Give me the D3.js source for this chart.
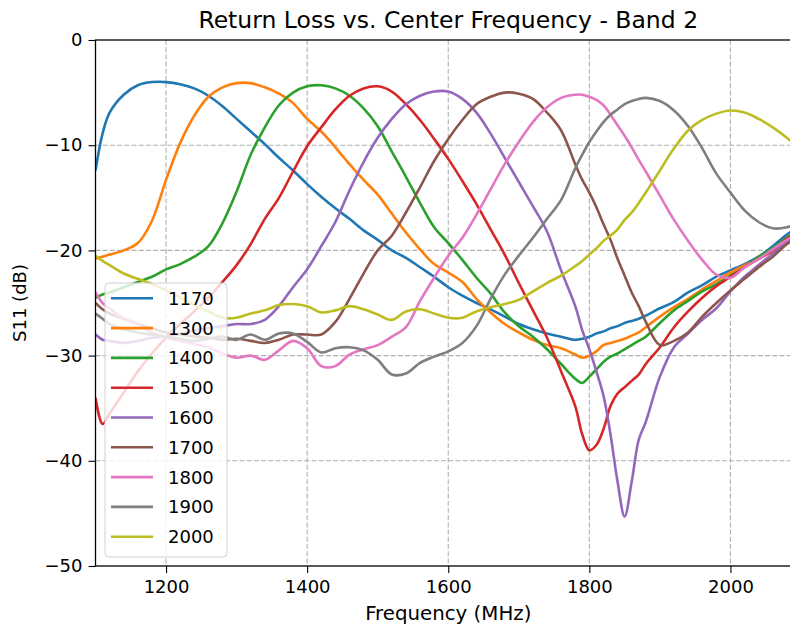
<!DOCTYPE html>
<html>
<head>
<meta charset="utf-8">
<script src="https://cdn.jsdelivr.net/npm/d3@7"></script>
<style>
  body { margin: 0; background: #fff; }
  svg { font-family: "DejaVu Sans", sans-serif; }
</style>
</head>
<body>
<svg id="canvas" width="790" height="629"></svg>
<script>
// frequency points (MHz) shared by every trace
const freq = [1100, 1110, 1120, 1140, 1160, 1180, 1200, 1220, 1240, 1260, 1280, 1300, 1320, 1340, 1360, 1380, 1400,
  1420, 1440, 1460, 1480, 1500, 1520, 1540, 1560, 1580, 1600, 1620, 1640, 1660, 1680, 1700, 1720, 1740, 1760, 1780,
  1790, 1800, 1810, 1820, 1830, 1840, 1850, 1860, 1870, 1880, 1900, 1920, 1940, 1960, 1980, 2000, 2020, 2040, 2060, 2080, 2100];

const labels = ['1170', '1300', '1400', '1500', '1600', '1700', '1800', '1900', '2000'];

// S11 (dB) for each center frequency
const s1170 = [-12.4, -8.9, -6.9, -5.2, -4.3, -4.0, -4.0, -4.2, -4.6, -5.3, -6.3, -7.5, -8.7, -9.9, -11.2, -12.4, -13.7,
  -14.9, -16.0, -17.0, -18.1, -19.0, -20.0, -20.7, -21.6, -22.5, -23.5, -24.3, -25.0, -25.6, -26.3, -27.0, -27.5, -27.9, -28.2, -28.5,
  -28.4, -28.2, -27.9, -27.7, -27.4, -27.2, -26.9, -26.7, -26.5, -26.2, -25.5, -24.9, -24.0, -23.3, -22.5, -21.9, -21.3, -20.6, -19.6, -18.5, -17.6];
const s1300 = [-20.8, -20.6, -20.4, -20.0, -19.3, -17.2, -13.3, -9.8, -7.2, -5.4, -4.5, -4.1, -4.1, -4.5, -5.1, -6.0, -7.5,
  -8.7, -10.2, -11.8, -13.3, -14.7, -16.5, -18.3, -19.9, -21.3, -22.1, -23.0, -24.6, -25.9, -27.0, -27.8, -28.5, -29.0, -29.3, -29.9,
  -30.2, -30.0, -29.6, -29.0, -28.8, -28.6, -28.4, -28.1, -27.8, -27.3, -26.3, -25.4, -24.6, -23.7, -22.9, -22.1, -21.4, -20.8, -20.0, -18.8, -17.9];
const s1400 = [-24.5, -24.2, -24.0, -23.5, -23.0, -22.5, -21.8, -21.3, -20.6, -19.6, -17.4, -14.4, -10.9, -8.3, -6.2, -5.0, -4.4,
  -4.3, -4.6, -5.3, -6.5, -8.2, -10.6, -13.0, -15.5, -17.8, -19.3, -20.9, -22.6, -24.1, -25.9, -27.2, -28.2, -29.4, -30.8, -32.2,
  -32.6, -32.0, -31.3, -30.6, -30.1, -29.8, -29.4, -29.0, -28.6, -28.2, -26.9, -25.7, -24.8, -23.9, -23.2, -22.4, -21.6, -20.6, -19.8, -18.8, -18.0];
const s1500 = [-34.0, -36.5, -35.5, -33.5, -31.5, -29.8, -28.3, -27.0, -25.8, -24.5, -23.0, -21.4, -19.4, -17.0, -15.0, -12.5, -10.1,
  -8.3, -6.6, -5.3, -4.6, -4.4, -4.9, -6.1, -7.6, -9.4, -11.3, -13.4, -15.6, -18.0, -20.4, -23.1, -25.7, -28.3, -31.5, -34.8,
  -37.5, -39.0, -38.5, -37.0, -34.8, -33.6, -33.0, -32.4, -31.8, -30.8, -29.2, -27.3, -25.8, -24.5, -23.4, -22.5, -21.6, -20.8, -20.0, -18.9, -18.0];
const s1600 = [-28.0, -28.5, -28.6, -28.8, -28.6, -28.3, -28.2, -27.9, -27.6, -27.4, -27.2, -27.0, -27.0, -26.6, -25.3, -23.5, -21.8,
  -19.6, -17.3, -14.3, -11.6, -9.3, -7.5, -6.1, -5.3, -4.9, -4.9, -5.6, -6.9, -8.9, -11.2, -13.5, -15.8, -18.2, -21.9, -25.3,
  -27.6, -29.4, -31.5, -33.8, -37.5, -42.0, -45.3, -42.0, -38.0, -36.3, -32.0, -29.2, -27.9, -26.6, -25.5, -23.9, -22.5, -21.4, -20.3, -19.2, -18.3];
const s1700 = [-25.0, -25.6, -26.0, -26.5, -27.0, -27.4, -27.8, -28.0, -28.2, -28.3, -28.5, -28.4, -28.6, -28.8, -28.5, -28.0, -28.0,
  -28.0, -26.8, -24.6, -22.2, -20.0, -18.6, -16.4, -14.0, -11.5, -9.4, -7.6, -6.1, -5.4, -5.0, -5.1, -5.6, -6.9, -8.6, -11.8,
  -13.3, -14.5, -15.9, -17.5, -19.0, -20.8, -22.4, -24.0, -25.3, -26.8, -29.0, -28.6, -27.8, -26.3, -25.0, -23.8, -22.7, -21.6, -20.6, -19.4, -18.5];
const s1800 = [-24.0, -25.0, -25.5, -26.5, -27.0, -27.8, -28.3, -28.6, -28.9, -29.2, -29.8, -30.2, -30.0, -30.4, -29.5, -28.6, -29.3,
  -31.0, -31.0, -29.9, -29.4, -29.0, -28.2, -27.3, -24.8, -22.6, -20.5, -18.8, -16.6, -14.2, -11.8, -9.7, -7.8, -6.4, -5.5, -5.2,
  -5.2, -5.4, -5.7, -6.2, -7.1, -8.1, -9.1, -10.2, -11.4, -12.5, -14.8, -17.1, -19.1, -20.9, -22.3, -22.6, -21.6, -20.8, -19.9, -19.0, -18.2];
const s1900 = [-26.0, -26.5, -27.0, -27.5, -27.8, -28.0, -28.2, -28.4, -28.6, -28.4, -28.2, -28.5, -28.0, -28.5, -27.9, -27.9, -28.7,
  -29.7, -29.3, -29.2, -29.5, -30.4, -31.8, -31.7, -30.7, -30.1, -29.6, -28.8, -27.2, -24.6, -22.3, -20.5, -18.8, -17.0, -15.2, -12.2,
  -10.9, -9.7, -8.7, -7.8, -7.1, -6.6, -6.1, -5.8, -5.6, -5.5, -5.8, -6.7, -8.2, -10.3, -12.7, -14.5, -16.2, -17.3, -17.9, -17.8, -17.3];
const s2000 = [-20.5, -21.0, -21.4, -22.2, -22.7, -23.2, -23.8, -24.5, -25.2, -25.8, -26.4, -26.4, -26.0, -25.7, -25.2, -25.1, -25.3,
  -25.9, -25.7, -25.3, -25.6, -26.1, -26.6, -25.8, -25.6, -26.0, -26.4, -26.4, -25.8, -25.4, -25.1, -24.7, -23.9, -23.1, -22.4, -21.5,
  -21.0, -20.4, -19.8, -19.1, -18.6, -18.0, -17.1, -16.4, -15.5, -14.5, -12.4, -10.3, -8.6, -7.6, -7.0, -6.7, -6.9, -7.5, -8.3, -9.3, -10.5];

const series = [s1170, s1300, s1400, s1500, s1600, s1700, s1800, s1900, s2000];
const colors = ['#1f77b4', '#ff7f0e', '#2ca02c', '#d62728', '#9467bd', '#8c564b', '#e377c2', '#7f7f7f', '#bcbd22'];

const xTicks = [1200, 1400, 1600, 1800, 2000];
const yTicks = [0, -10, -20, -30, -40, -50];

let canvas = d3.select('#canvas')
const mLeft = 95.5, mRight = 801, mTop = 40, mBottom = 566;

let x = d3.scaleLinear().domain([1100, 2100]).range([mLeft, mRight]);
let y = d3.scaleLinear().domain([-50, 0]).range([mBottom, mTop]);

// grid
canvas.append('g')
  .selectAll('line')
  .data(xTicks)
  .enter().append('line')
  .attr('x1', d => x(d)).attr('x2', d => x(d))
  .attr('y1', mTop).attr('y2', mBottom)
  .attr('stroke', '#b0b0b0').attr('stroke-width', 1.1).attr('stroke-dasharray', '5,2.2');
canvas.append('g')
  .selectAll('line')
  .data(yTicks.filter(d => d > -50 && d < 0))
  .enter().append('line')
  .attr('x1', mLeft).attr('x2', mRight)
  .attr('y1', d => y(d)).attr('y2', d => y(d))
  .attr('stroke', '#b0b0b0').attr('stroke-width', 1.1).attr('stroke-dasharray', '5,2.2');

canvas.append('clipPath').attr('id', 'clip')
  .append('rect').attr('x', mLeft).attr('y', mTop).attr('width', mRight - mLeft).attr('height', mBottom - mTop);

let line = d3.line()
  .x((d, i) => x(freq[i]))
  .y(d => y(d))
  .curve(d3.curveCatmullRom.alpha(0.5));

canvas.append('g').attr('clip-path', 'url(#clip)')
  .selectAll('path')
  .data(series)
  .enter().append('path')
  .attr('d', line)
  .attr('fill', 'none')
  .attr('stroke', (d, i) => colors[i])
  .attr('stroke-width', 2.6)
  .attr('stroke-linejoin', 'round');

// axes
let xAxis = d3.axisBottom(x).tickValues(xTicks).tickSize(7).tickPadding(7).tickFormat(d3.format('d'));
let yAxis = d3.axisLeft(y).tickValues(yTicks).tickSize(7).tickPadding(6).tickFormat(d => d < 0 ? '\u2212' + Math.abs(d) : d);

let gx = canvas.append('g').attr('transform', `translate(0,${mBottom})`).call(xAxis);
let gy = canvas.append('g').attr('transform', `translate(${mLeft},0)`).call(yAxis);
[gx, gy].forEach(g => {
  g.select('.domain').remove();
  g.selectAll('line').attr('stroke', '#000').attr('stroke-width', 1.1);
  g.selectAll('text').attr('font-size', 18).attr('fill', '#000').attr('font-family', 'DejaVu Sans');
});

// frame
canvas.append('rect')
  .attr('x', mLeft).attr('y', mTop).attr('width', mRight - mLeft).attr('height', mBottom - mTop)
  .attr('fill', 'none').attr('stroke', '#000').attr('stroke-width', 1.3);

// legend
const legX = 105, legY = 283, rowH = 29.8;
let leg = canvas.append('g');
leg.append('rect')
  .attr('x', legX).attr('y', legY).attr('width', 122).attr('height', 274).attr('rx', 4)
  .attr('fill', '#fff').attr('fill-opacity', 0.8).attr('stroke', '#d0d0d0');
let rows = leg.selectAll('g').data(labels).enter().append('g')
  .attr('transform', (d, i) => `translate(0,${legY + 15.3 + i * rowH})`);
rows.append('line').attr('x1', 111).attr('x2', 153).attr('y1', 0).attr('y2', 0)
  .attr('stroke', (d, i) => colors[i]).attr('stroke-width', 2.6);
rows.append('text').attr('x', 168).attr('y', 0).attr('dy', '0.36em')
  .attr('font-size', 18).text(d => d);

// titles
canvas.append('text').attr('x', (mLeft + mRight) / 2).attr('y', 28)
  .attr('text-anchor', 'middle').attr('font-size', 23.5).text('Return Loss vs. Center Frequency - Band 2');
canvas.append('text').attr('x', (mLeft + mRight) / 2).attr('y', 620)
  .attr('text-anchor', 'middle').attr('font-size', 19.8).text('Frequency (MHz)');
canvas.append('text').attr('transform', `translate(26,${(mTop + mBottom) / 2}) rotate(-90)`)
  .attr('text-anchor', 'middle').attr('font-size', 18).text('S11 (dB)');
</script>
</body>
</html>
